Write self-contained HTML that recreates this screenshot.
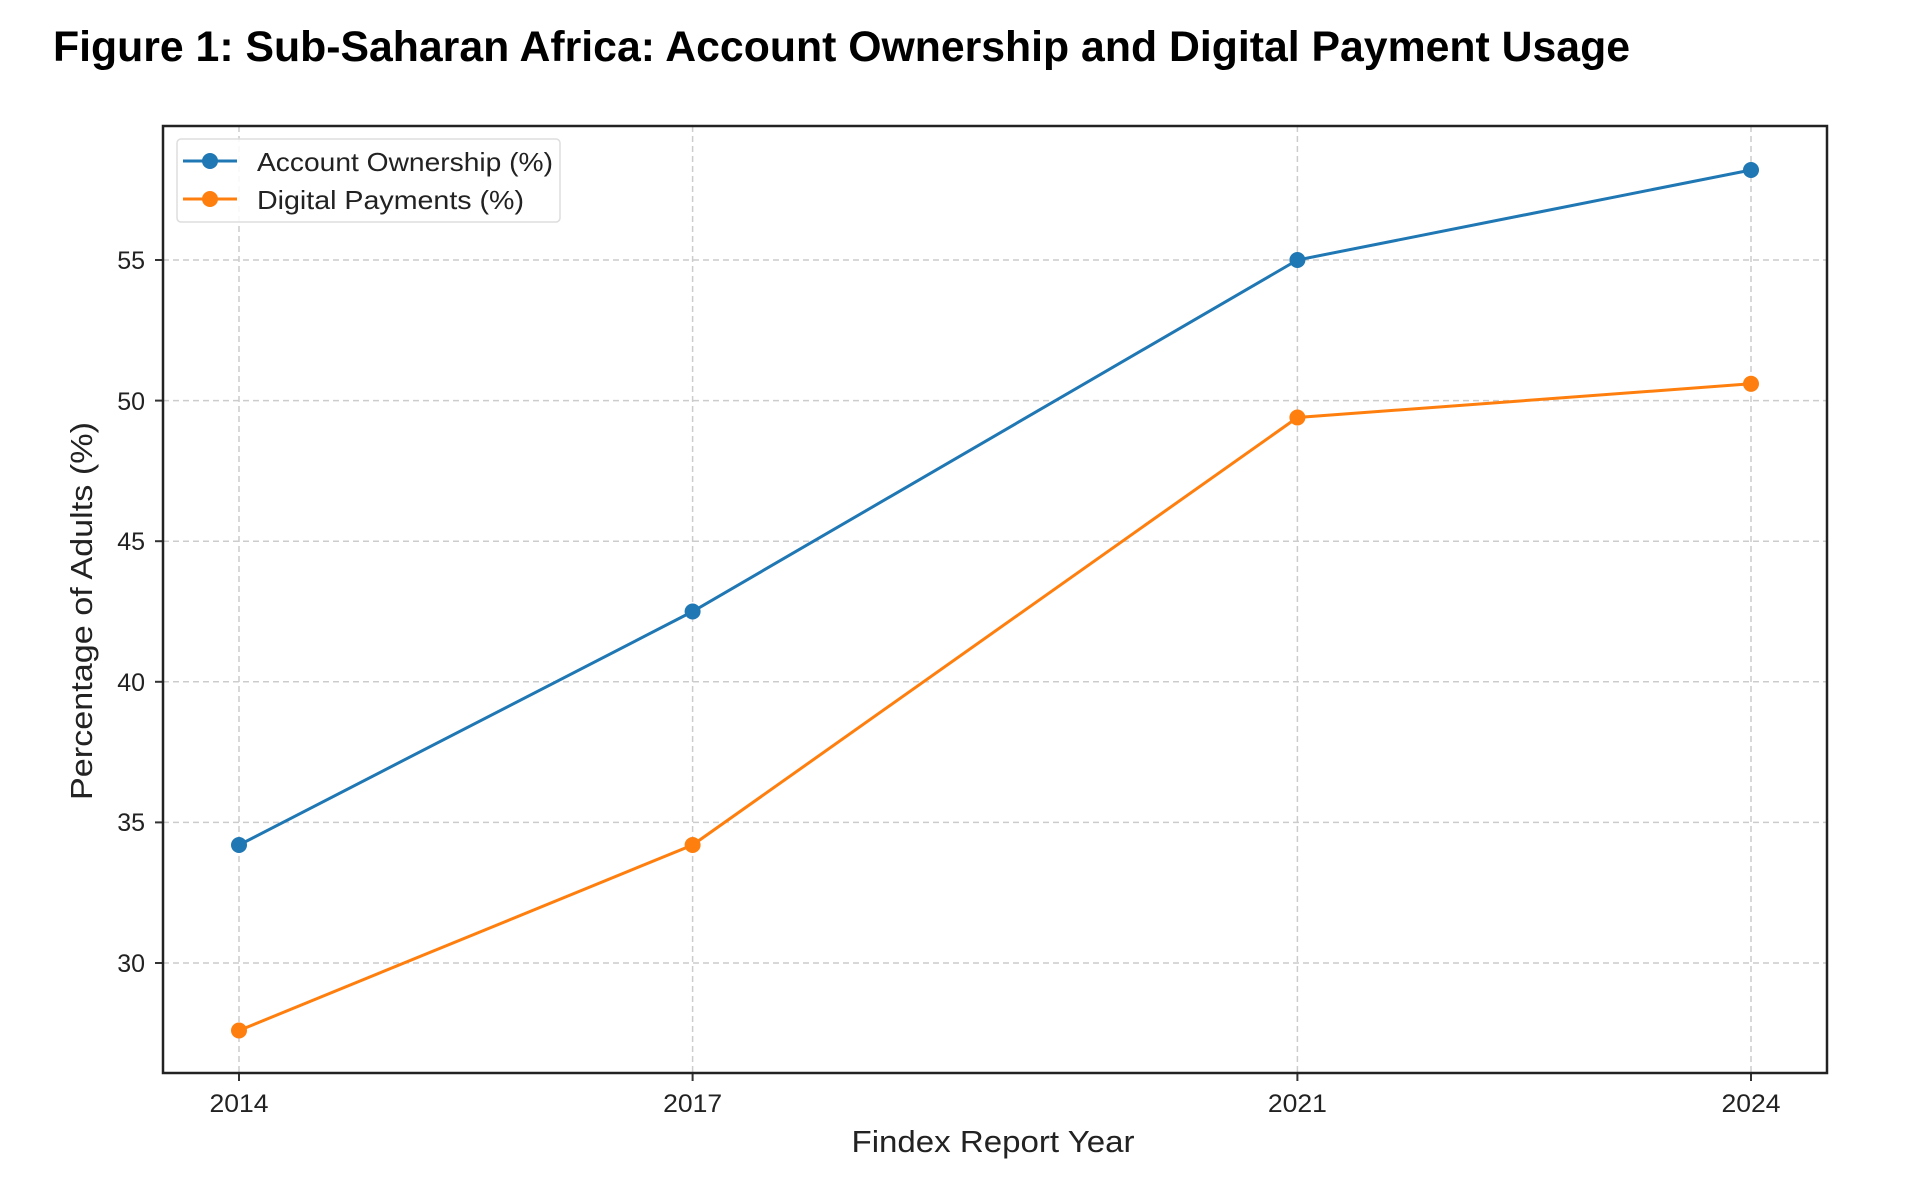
<!DOCTYPE html>
<html><head><meta charset="utf-8"><style>html,body{margin:0;padding:0;background:#fff}</style></head>
<body>
<svg width="1920" height="1192" viewBox="0 0 1920 1192" xmlns="http://www.w3.org/2000/svg" font-family="'Liberation Sans','DejaVu Sans',sans-serif">
<rect width="1920" height="1192" fill="#fff"/>
<text x="53" y="61" font-size="43" font-weight="bold" textLength="1577" lengthAdjust="spacingAndGlyphs" fill="#000">Figure 1: Sub-Saharan Africa: Account Ownership and Digital Payment Usage</text>
<g stroke="#ccc" stroke-width="1.5" stroke-dasharray="6,4">
<line x1="239" y1="126" x2="239" y2="1073"/><line x1="692.6" y1="126" x2="692.6" y2="1073"/><line x1="1297.4" y1="126" x2="1297.4" y2="1073"/><line x1="1751" y1="126" x2="1751" y2="1073"/>
<line x1="163" y1="963" x2="1827" y2="963"/><line x1="163" y1="822.4" x2="1827" y2="822.4"/><line x1="163" y1="681.8" x2="1827" y2="681.8"/><line x1="163" y1="541.2" x2="1827" y2="541.2"/><line x1="163" y1="400.6" x2="1827" y2="400.6"/><line x1="163" y1="260" x2="1827" y2="260"/>
</g>
<g stroke="#333" stroke-width="2">
<line x1="239" y1="1073" x2="239" y2="1081"/><line x1="692.6" y1="1073" x2="692.6" y2="1081"/><line x1="1297.4" y1="1073" x2="1297.4" y2="1081"/><line x1="1751" y1="1073" x2="1751" y2="1081"/>
<line x1="155" y1="963" x2="163" y2="963"/><line x1="155" y1="822.4" x2="163" y2="822.4"/><line x1="155" y1="681.8" x2="163" y2="681.8"/><line x1="155" y1="541.2" x2="163" y2="541.2"/><line x1="155" y1="400.6" x2="163" y2="400.6"/><line x1="155" y1="260" x2="163" y2="260"/>
</g>
<g font-size="25" fill="#222">
<g text-anchor="middle"><text x="239" y="1112" textLength="59" lengthAdjust="spacingAndGlyphs">2014</text><text x="692.6" y="1112" textLength="59" lengthAdjust="spacingAndGlyphs">2017</text><text x="1297.4" y="1112" textLength="59" lengthAdjust="spacingAndGlyphs">2021</text><text x="1751" y="1112" textLength="59" lengthAdjust="spacingAndGlyphs">2024</text></g>
<g text-anchor="end"><text x="145" y="972">30</text><text x="145" y="831">35</text><text x="145" y="691">40</text><text x="145" y="550">45</text><text x="145" y="410">50</text><text x="145" y="269">55</text></g>
</g>
<text x="993" y="1152" font-size="31" text-anchor="middle" fill="#222" textLength="283" lengthAdjust="spacingAndGlyphs">Findex Report Year</text>
<text transform="translate(92,611) rotate(-90)" font-size="31" text-anchor="middle" fill="#222" textLength="378" lengthAdjust="spacingAndGlyphs">Percentage of Adults (%)</text>
<polyline fill="none" stroke="#1f77b4" stroke-width="3" points="239,845 692.6,611.5 1297.4,260 1751,170"/>
<polyline fill="none" stroke="#ff7f0e" stroke-width="3" points="239,1030.5 692.6,845 1297.4,417.5 1751,383.8"/>
<g fill="#1f77b4"><circle cx="239" cy="845" r="8"/><circle cx="692.6" cy="611.5" r="8"/><circle cx="1297.4" cy="260" r="8"/><circle cx="1751" cy="170" r="8"/></g>
<g fill="#ff7f0e"><circle cx="239" cy="1030.5" r="8"/><circle cx="692.6" cy="845" r="8"/><circle cx="1297.4" cy="417.5" r="8"/><circle cx="1751" cy="383.8" r="8"/></g>
<rect x="163" y="126" width="1664" height="947" fill="none" stroke="#222" stroke-width="2.5"/>
<rect x="177" y="139" width="383" height="83" rx="4" fill="#fff" fill-opacity="0.85" stroke="#ddd" stroke-width="1.5"/>
<line x1="183" y1="161" x2="237" y2="161" stroke="#1f77b4" stroke-width="3"/><circle cx="210" cy="161" r="8" fill="#1f77b4"/>
<line x1="183" y1="199" x2="237" y2="199" stroke="#ff7f0e" stroke-width="3"/><circle cx="210" cy="199" r="8" fill="#ff7f0e"/>
<text x="257" y="171" font-size="26" fill="#222" textLength="296" lengthAdjust="spacingAndGlyphs">Account Ownership (%)</text>
<text x="257" y="209" font-size="26" fill="#222" textLength="267" lengthAdjust="spacingAndGlyphs">Digital Payments (%)</text>
</svg>
</body></html>
